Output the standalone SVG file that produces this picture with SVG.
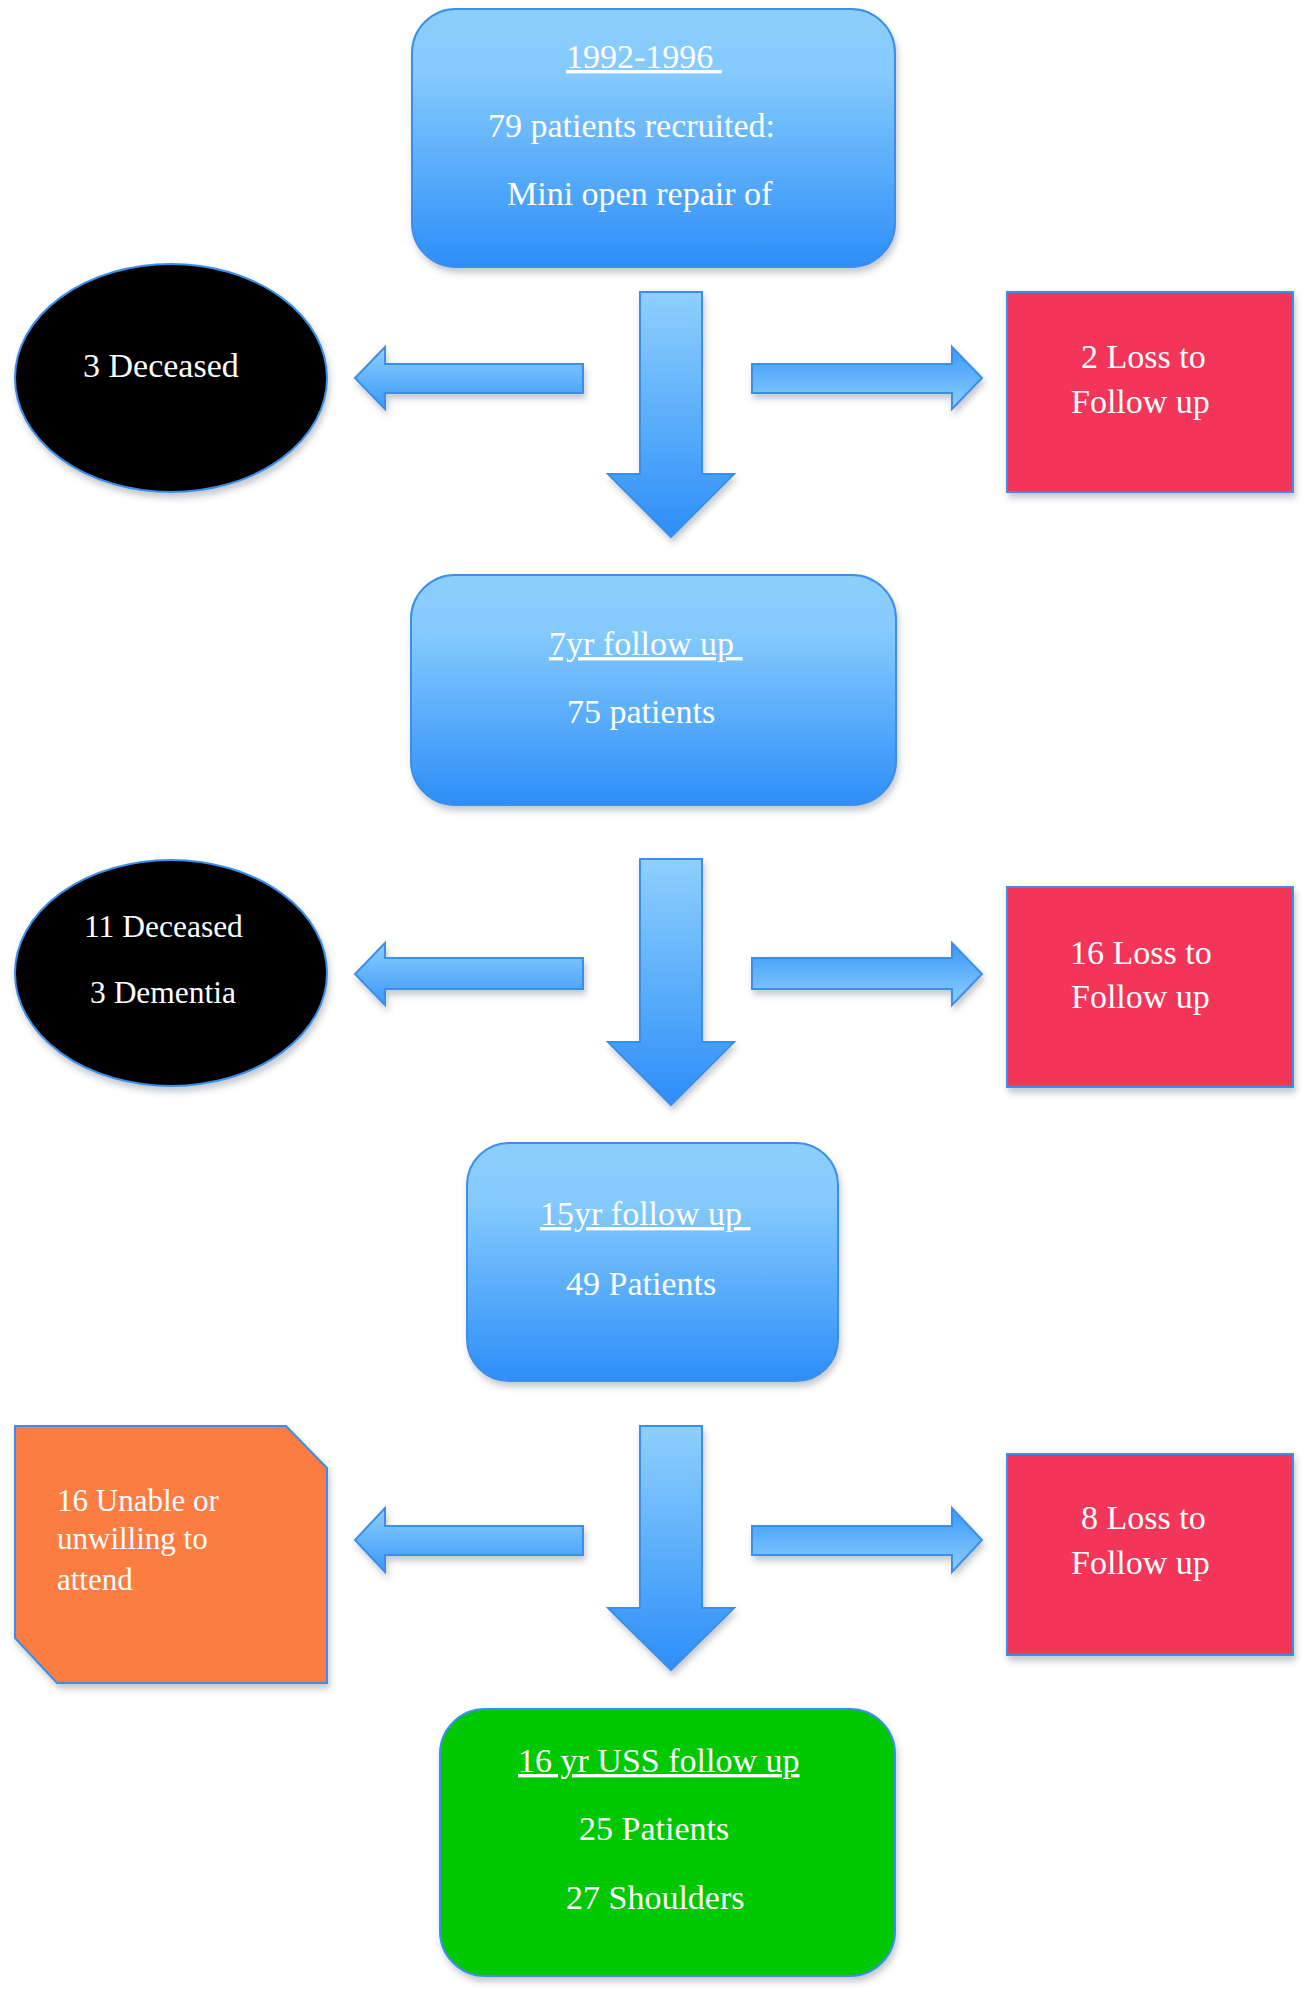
<svg xmlns="http://www.w3.org/2000/svg" width="1305" height="1995" viewBox="0 0 1305 1995">
<defs>
<linearGradient id="gBox" x1="0" y1="0" x2="0" y2="1">
<stop offset="0" stop-color="#8ccffd"/>
<stop offset="0.25" stop-color="#84cafd"/>
<stop offset="1" stop-color="#2d8ef8"/>
</linearGradient>
<linearGradient id="gDown" x1="0" y1="0" x2="0" y2="1">
<stop offset="0" stop-color="#8ed0fd"/>
<stop offset="1" stop-color="#2d8ef8"/>
</linearGradient>
<linearGradient id="gLeft" x1="0" y1="0" x2="0" y2="1">
<stop offset="0" stop-color="#8ccffd"/>
<stop offset="1" stop-color="#3a98f8"/>
</linearGradient>
<linearGradient id="gRight" x1="0" y1="0" x2="0" y2="1">
<stop offset="0" stop-color="#3a98f8"/>
<stop offset="1" stop-color="#8ccffd"/>
</linearGradient>
<filter id="sh" x="-10%" y="-10%" width="125%" height="130%">
<feDropShadow dx="2" dy="5" stdDeviation="3" flood-color="#405060" flood-opacity="0.3"/>
</filter>
</defs>
<style>
.bx{fill:url(#gBox);stroke:#3b8fe8;stroke-width:2;filter:url(#sh)}
.ar{stroke:#3b8fe8;stroke-width:2;filter:url(#sh)}
.side{stroke:#3b8fe8;stroke-width:2;filter:url(#sh)}
text{font-family:"Liberation Serif","Times New Roman",serif;font-size:34px;fill:#ffffff}
.u{text-decoration:underline;white-space:pre}
.s30{font-size:31.5px}
.s31{font-size:31px}
</style>

<g id="connectors">
<!-- row 1 -->
<polygon class="ar" fill="url(#gDown)" points="640,292 702,292 702,474 734,474 671,537 608,474 640,474"/>
<polygon class="ar" fill="url(#gLeft)" points="583,364 583,393 385,393 385,409 355,378 385,347 385,364"/>
<polygon class="ar" fill="url(#gRight)" points="752,364 952,364 952,347 982,378 952,409 952,393 752,393"/>
<!-- row 2 -->
<polygon class="ar" fill="url(#gDown)" points="640,859 702,859 702,1042 734,1042 671,1105 608,1042 640,1042"/>
<polygon class="ar" fill="url(#gLeft)" points="583,958 583,989 385,989 385,1005 355,974 385,943 385,958"/>
<polygon class="ar" fill="url(#gRight)" points="752,958 952,958 952,943 982,974 952,1005 952,989 752,989"/>
<!-- row 4 -->
<polygon class="ar" fill="url(#gDown)" points="640,1426 702,1426 702,1608 734,1608 671,1670 608,1608 640,1608"/>
<polygon class="ar" fill="url(#gLeft)" points="583,1526 583,1555 385,1555 385,1572 355,1540 385,1508 385,1526"/>
<polygon class="ar" fill="url(#gRight)" points="752,1526 952,1526 952,1508 982,1540 952,1572 952,1555 752,1555"/>
</g>

<g id="n-start">
<rect class="bx" x="412" y="9" width="483" height="258" rx="44" ry="44"/>
<text x="566" y="68" class="u" xml:space="preserve">1992-1996 </text>
<text x="488" y="137">79 patients recruited:</text>
<text x="507" y="205">Mini open repair of</text>
</g>

<g id="n-deceased1">
<ellipse class="side" cx="171" cy="378" rx="156" ry="114" fill="#000000"/>
<text x="83" y="377">3 Deceased</text>
</g>

<g id="n-loss1">
<rect class="side" x="1007" y="292" width="286" height="200" fill="#f23559"/>
<text x="1081" y="368">2 Loss to</text>
<text x="1071" y="413">Follow up</text>
</g>

<g id="n-7yr">
<rect class="bx" x="411" y="575" width="485" height="230" rx="44" ry="44"/>
<text x="549" y="655" class="u" xml:space="preserve">7yr follow up </text>
<text x="567" y="723">75 patients</text>
</g>

<g id="n-deceased2">
<ellipse class="side" cx="171" cy="973" rx="156" ry="113" fill="#000000"/>
<text x="84" y="937" class="s30">11 Deceased</text>
<text x="90" y="1003" class="s30">3 Dementia</text>
</g>

<g id="n-loss2">
<rect class="side" x="1007" y="887" width="286" height="200" fill="#f23559"/>
<text x="1070" y="964">16 Loss to</text>
<text x="1071" y="1008">Follow up</text>
</g>

<g id="n-15yr">
<rect class="bx" x="467" y="1143" width="371" height="238" rx="42" ry="42"/>
<text x="540" y="1225" class="u" xml:space="preserve">15yr follow up </text>
<text x="566" y="1295">49 Patients</text>
</g>

<g id="n-unable">
<polygon class="side" fill="#fd7c42" points="15,1426 286,1426 327,1468 327,1683 57,1683 15,1638"/>
<text x="57" y="1511" class="s31">16 Unable or</text>
<text x="57" y="1549" class="s31">unwilling to</text>
<text x="57" y="1590" class="s31">attend</text>
</g>

<g id="n-loss3">
<rect class="side" x="1007" y="1454" width="286" height="201" fill="#f23559"/>
<text x="1081" y="1529">8 Loss to</text>
<text x="1071" y="1574">Follow up</text>
</g>

<g id="n-16yr">
<rect class="side" x="440" y="1709" width="455" height="267" rx="45" ry="45" fill="#00c800"/>
<text x="518" y="1772" class="u" xml:space="preserve">16 yr USS follow up</text>
<text x="579" y="1840">25 Patients</text>
<text x="566" y="1909">27 Shoulders</text>
</g>
</svg>
